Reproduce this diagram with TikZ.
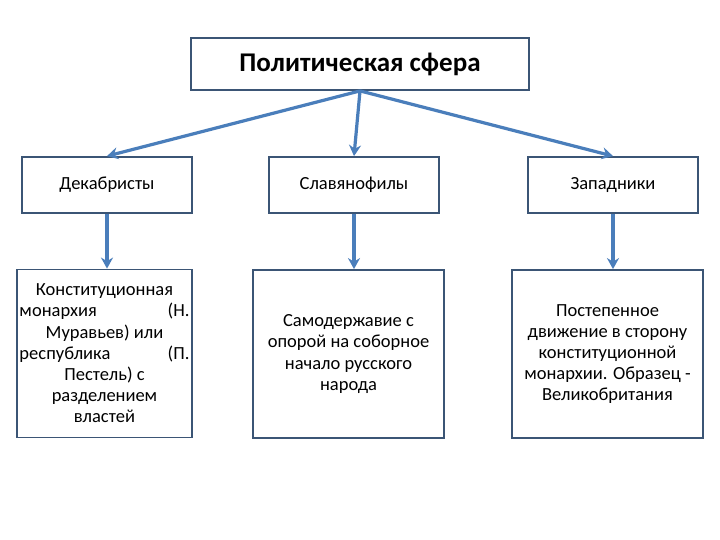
\documentclass[tikz,border=0pt]{standalone}
\usepackage{fontspec}
\setmainfont{Carlito}
\usepackage{tikz}
\usetikzlibrary{arrows.meta, positioning}
\definecolor{officeblue}{HTML}{4A7EBB}
\definecolor{slateline}{HTML}{3B5575}

\begin{document}
\begin{tikzpicture}[
    x=1pt, y=-1pt,
    topbox/.style={rectangle, draw=slateline, line width=1.8pt, fill=white, minimum width=338pt, minimum height=52pt, align=center, font=\fontsize{27}{30}\selectfont\bfseries},
    headbox/.style={rectangle, draw=slateline, line width=1.8pt, fill=white, minimum width=170pt, minimum height=56pt, align=center, font=\fontsize{18.5}{21.5}\selectfont},
    textbox/.style={rectangle, draw=slateline, line width=1.8pt, fill=white, minimum height=168pt, inner sep=2pt, align=center, font=\fontsize{18.5}{21.2}\selectfont},
    arr/.style={-{Stealth[length=11pt, width=12pt]}, line width=3.2pt, color=officeblue},
  ]
  \fill[white] (0,0) rectangle (720,540);
  \useasboundingbox (0,0) rectangle (720,540);

  % Top
  \node[topbox] (sphere) at (360,64) {Политическая сфера};

  % Currents
  \node[headbox] (decemb) at (107,185) {Декабристы};
  \node[headbox] (slavo) at (354,185) {Славянофилы};
  \node[headbox] (western) at (613,185) {Западники};

  % Programmes
  \node[textbox, minimum width=175pt] (decembtxt) at (104.5,353.5)
    {Конституционная\\ \makebox[170pt]{монархия\hfill(Н.}\\ Муравьев) или\\ \makebox[170pt]{республика\hfill(П.}\\ Пестель) с\\ разделением\\ властей};
  \node[textbox, minimum width=191pt] (slavotxt) at (348.5,354)
    {Самодержавие с\\ опорой на соборное\\ начало русского\\ народа};
  \node[textbox, minimum width=191pt] (westerntxt) at (607.5,354)
    {Постепенное\\ движение в сторону\\ конституционной\\ монархии. Образец -\\ Великобритания};

  % Arrows
  \coordinate (hub) at (sphere.south);
  \draw[arr] (hub) -- (decemb.north);
  \draw[arr] (hub) -- (slavo.north);
  \draw[arr] (hub) -- (western.north);
  \draw[arr] (decemb.south) -- (decemb.south |- decembtxt.north);
  \draw[arr] (slavo.south) -- (slavo.south |- slavotxt.north);
  \draw[arr] (western.south) -- (western.south |- westerntxt.north);
\end{tikzpicture}
\end{document}
